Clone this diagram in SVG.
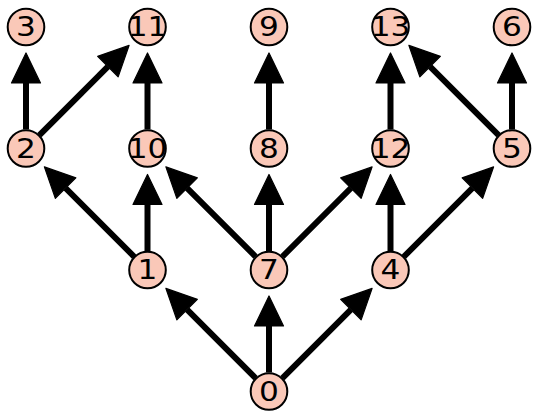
<svg xmlns="http://www.w3.org/2000/svg" width="538" height="420" viewBox="0 0 538 420">
<style>
.n circle{fill:#fac8b8;stroke:#000;stroke-width:2}
.n text{font-family:"DejaVu Sans",sans-serif;font-size:26px;text-anchor:middle;fill:#000}
#edges line{stroke:#000;stroke-width:6;marker-end:url(#ah)}
</style>
<defs>
<marker id="ah" markerUnits="userSpaceOnUse" orient="auto" refX="0" refY="0" markerWidth="50" markerHeight="50" viewBox="-2 -25 50 50" overflow="visible">
<path d="M0,-14.5 L30,0 L0,14.5 Z" fill="#000" stroke="#000" stroke-width="1.2" stroke-linejoin="round"/>
</marker>
</defs>
<rect width="538" height="420" fill="#fff"/>
<g id="edges">
<line x1="26" y1="129.5" x2="26" y2="83"/>
<line x1="147.5" y1="129.5" x2="147.5" y2="83"/>
<line x1="269" y1="129.5" x2="269" y2="83"/>
<line x1="390.5" y1="129.5" x2="390.5" y2="83"/>
<line x1="512" y1="129.5" x2="512" y2="83"/>
<line x1="147.5" y1="251" x2="147.5" y2="204.5"/>
<line x1="269" y1="251" x2="269" y2="204.5"/>
<line x1="390.5" y1="251" x2="390.5" y2="204.5"/>
<line x1="269" y1="372.5" x2="269" y2="326"/>
<line x1="39.43" y1="135.07" x2="107.9" y2="66.6"/>
<line x1="282.43" y1="256.57" x2="350.9" y2="188.1"/>
<line x1="403.93" y1="256.57" x2="472.4" y2="188.1"/>
<line x1="282.43" y1="378.07" x2="350.9" y2="309.6"/>
<line x1="498.57" y1="135.07" x2="430.1" y2="66.6"/>
<line x1="134.07" y1="256.57" x2="65.6" y2="188.1"/>
<line x1="255.57" y1="256.57" x2="187.1" y2="188.1"/>
<line x1="255.57" y1="378.07" x2="187.1" y2="309.6"/>
</g>
<g id="n3" class="n"><circle cx="26" cy="27" r="18.3"/><text transform="translate(26 36.3) scale(1.2 1)">3</text></g>
<g id="n11" class="n"><circle cx="147.5" cy="27" r="18.3"/><text transform="translate(147.5 36.3) scale(1.2 1)">11</text></g>
<g id="n9" class="n"><circle cx="269" cy="27" r="18.3"/><text transform="translate(269 36.3) scale(1.2 1)">9</text></g>
<g id="n13" class="n"><circle cx="390.5" cy="27" r="18.3"/><text transform="translate(390.5 36.3) scale(1.2 1)">13</text></g>
<g id="n6" class="n"><circle cx="512" cy="27" r="18.3"/><text transform="translate(512 36.3) scale(1.2 1)">6</text></g>
<g id="n2" class="n"><circle cx="26" cy="148.5" r="18.3"/><text transform="translate(26 157.8) scale(1.2 1)">2</text></g>
<g id="n10" class="n"><circle cx="147.5" cy="148.5" r="18.3"/><text transform="translate(147.5 157.8) scale(1.2 1)">10</text></g>
<g id="n8" class="n"><circle cx="269" cy="148.5" r="18.3"/><text transform="translate(269 157.8) scale(1.2 1)">8</text></g>
<g id="n12" class="n"><circle cx="390.5" cy="148.5" r="18.3"/><text transform="translate(390.5 157.8) scale(1.2 1)">12</text></g>
<g id="n5" class="n"><circle cx="512" cy="148.5" r="18.3"/><text transform="translate(512 157.8) scale(1.2 1)">5</text></g>
<g id="n1" class="n"><circle cx="147.5" cy="270" r="18.3"/><text transform="translate(147.5 279.3) scale(1.2 1)">1</text></g>
<g id="n7" class="n"><circle cx="269" cy="270" r="18.3"/><text transform="translate(269 279.3) scale(1.2 1)">7</text></g>
<g id="n4" class="n"><circle cx="390.5" cy="270" r="18.3"/><text transform="translate(390.5 279.3) scale(1.2 1)">4</text></g>
<g id="n0" class="n"><circle cx="269" cy="391.5" r="18.3"/><text transform="translate(269 400.8) scale(1.2 1)">0</text></g>
</svg>
